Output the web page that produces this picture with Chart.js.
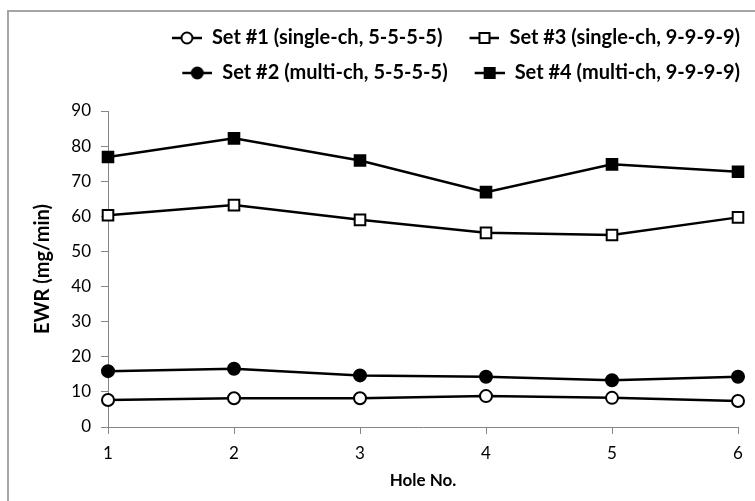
<!DOCTYPE html>
<html>
<head>
<meta charset="utf-8">
<script src="https://cdn.jsdelivr.net/npm/chart.js@4/dist/chart.umd.min.js"></script>
<style>
  html, body { margin: 0; padding: 0; background: #fff; overflow: hidden; }
  #frame { position: absolute; left: 7px; top: 10px; width: 800px; height: 600px; border: 2px solid #a6a6a6; }
  #wrap { position: relative; width: 755px; height: 501px; }
</style>
</head>
<body>
<div id="frame"></div>
<div id="wrap"><canvas id="ewrChart" width="755" height="501"></canvas></div>
<script>
// values
const holes = ['1', '2', '3', '4', '5', '6'];
const set1 = [7.7, 8.2, 8.2, 8.8, 8.3, 7.4];
const set2 = [15.9, 16.6, 14.7, 14.3, 13.3, 14.3];
const set3 = [60.3, 63.2, 59.0, 55.3, 54.7, 59.7];
const set4 = [76.9, 82.2, 75.9, 66.9, 74.8, 72.7];
const yTicks = [0, 10, 20, 30, 40, 50, 60, 70, 80, 90];

const FONT = 'Lato';

// little line+marker icons for the legend (like Excel's)
// left 12px left blank so the two columns get a wider gap
function legendIcon(shape, filled) {
    const c = document.createElement('canvas');
    c.width = 42; c.height = 16;
    const g = c.getContext('2d');
    g.strokeStyle = '#000';
    g.lineWidth = 2.5;
    g.beginPath(); g.moveTo(12, 8); g.lineTo(42, 8); g.stroke();
    g.fillStyle = filled ? '#000' : '#fff';
    g.lineWidth = 2;
    g.beginPath();
    if (shape === 'circle') g.arc(27, 8, 5.5, 0, Math.PI * 2);
    else g.rect(22, 3, 10, 10);
    g.fill(); g.stroke();
    return c;
}

function series(label, data, shape, filled) {
    return {
        label: label,
        data: data,
        borderColor: '#000',
        borderWidth: 2.5,
        pointStyle: shape,
        pointRadius: shape === 'circle' ? 6 : 7.5,
        pointBorderWidth: 2,
        pointBorderColor: '#000',
        pointBackgroundColor: filled ? '#000' : '#fff',
        icon: legendIcon(shape, filled),
        tension: 0
    };
}

// legend order in the reference: row1 = #1, #3 ; row2 = #2, #4
const datasets = [
    series('Set #1 (single-ch, 5-5-5-5)', set1, 'circle', false),
    series('Set #3 (single-ch, 9-9-9-9)', set3, 'rect', false),
    series('Set #2 (multi-ch, 5-5-5-5)', set2, 'circle', true),
    series('Set #4 (multi-ch, 9-9-9-9)', set4, 'rect', true)
];

// extra room between legend and plot
const legendGap = {
    id: 'legendGap',
    beforeLayout(chart) {
        const lg = chart.legend;
        if (!lg || lg._gapped) return;
        const fit = lg.fit;
        lg.fit = function () { fit.call(this); this.height += 18; };
        lg._gapped = true;
    }
};

const ctx = document.getElementById('ewrChart').getContext('2d');
const ewrChart = new Chart(ctx, {
    type: 'line',
    data: { labels: holes, datasets: datasets },
    plugins: [legendGap],
    options: {
        responsive: false,
        animation: false,
        layout: { padding: { top: 13, left: 27, right: 0, bottom: 6 } },
        plugins: {
            tooltip: { enabled: false },
            legend: {
                position: 'top',
                align: 'end',
                labels: {
                    usePointStyle: true,
                    pointStyleWidth: 42,
                    padding: 15,
                    color: '#000',
                    font: { family: FONT, size: 20, weight: 'bold' },
                    generateLabels(chart) {
                        const items = Chart.defaults.plugins.legend.labels.generateLabels(chart);
                        items.forEach(it => { it.pointStyle = chart.data.datasets[it.datasetIndex].icon; });
                        return items;
                    }
                }
            }
        },
        scales: {
            x: {
                type: 'category',
                offset: false,
                grid: { drawOnChartArea: false, drawTicks: true, tickLength: 7, color: '#868686' },
                border: { color: '#868686', width: 1 },
                ticks: { color: '#000', padding: 9, font: { family: FONT, size: 17 } },
                title: { display: true, text: 'Hole No.', color: '#000', font: { family: FONT, size: 17, weight: 'bold' } },
                afterFit(scale) { scale.height = 68; scale.paddingRight = 17; }
            },
            y: {
                min: yTicks[0],
                max: yTicks[yTicks.length - 1],
                afterBuildTicks(scale) { scale.ticks = yTicks.map(v => ({ value: v })); },
                grid: { drawOnChartArea: false, drawTicks: true, tickLength: 7, color: '#868686' },
                border: { color: '#868686', width: 1 },
                ticks: { color: '#000', padding: 10, font: { family: FONT, size: 17 } },
                title: { display: true, text: 'EWR (mg/min)', color: '#000', font: { family: FONT, size: 20, weight: 'bold' } },
                afterFit(scale) { scale.width = 81; }
            }
        }
    }
});
</script>
</body>
</html>
